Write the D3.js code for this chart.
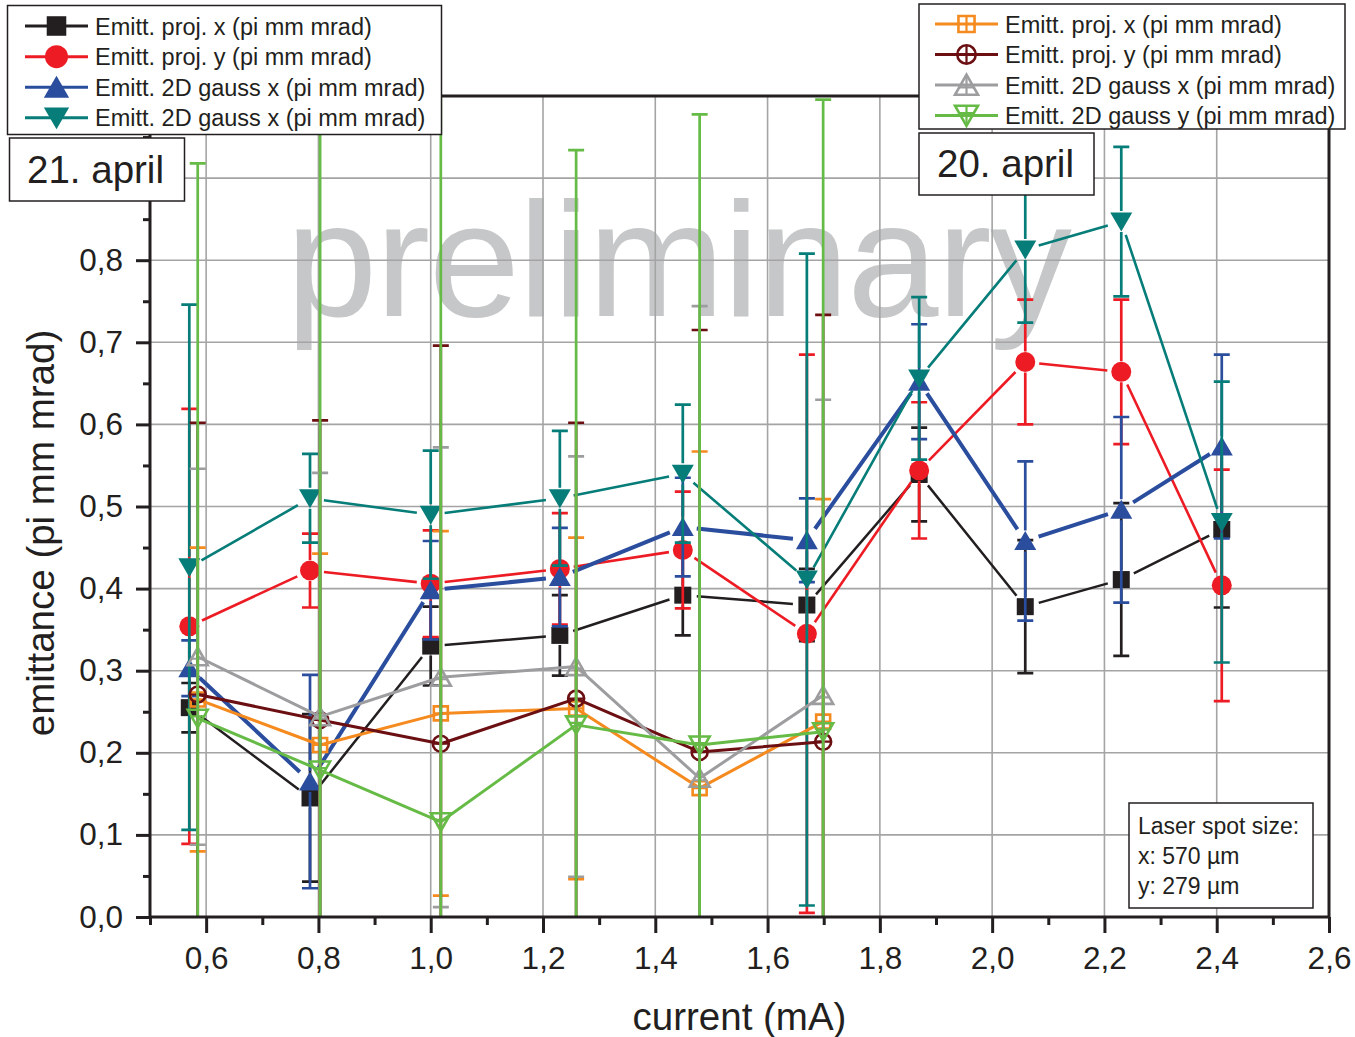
<!DOCTYPE html>
<html>
<head>
<meta charset="utf-8">
<script src="https://cdn.jsdelivr.net/npm/d3@7"></script>
<style>
  html, body { margin: 0; padding: 0; background: #fff; }
  svg { display: block; font-family: "Liberation Sans", Arial, Helvetica, sans-serif; }
</style>
</head>
<body>
<svg id="chart" width="1355" height="1037"></svg>
<script>
// ---------------- data ----------------
// beam current (mA) of each measurement
const currentApr21 = [0.57, 0.785, 1.0, 1.23, 1.449, 1.67, 1.87, 2.059, 2.23, 2.409];
const currentApr20 = [0.585, 0.803, 1.018, 1.259, 1.479, 1.699];

// 21. april, emittance (pi mm mrad) and errors
const projX21      = [0.255, 0.145, 0.330, 0.343, 0.392, 0.380, 0.539, 0.378, 0.411, 0.472];
const projX21Err   = [0.030, 0.102, 0.048, 0.049, 0.049, 0.044, 0.057, 0.081, 0.093, 0.095];
const projY21      = [0.354, 0.422, 0.406, 0.424, 0.447, 0.345, 0.544, 0.676, 0.664, 0.404];
const projY21Err   = [0.265, 0.045, 0.065, 0.068, 0.071, 0.340, 0.083, 0.076, 0.088, 0.141];
const gaussX21     = [0.303, 0.165, 0.398, 0.414, 0.475, 0.459, 0.652, 0.458, 0.496, 0.573];
const gaussX21Err  = [0.034, 0.130, 0.060, 0.060, 0.060, 0.051, 0.070, 0.097, 0.113, 0.112];
const gaussY21     = [0.426, 0.510, 0.490, 0.510, 0.540, 0.411, 0.656, 0.813, 0.847, 0.481];
const gaussY21Err  = [0.320, 0.054, 0.078, 0.082, 0.084, 0.397, 0.099, 0.089, 0.091, 0.171];

// 20. april, emittance (pi mm mrad) and errors
const projX20      = [0.265, 0.2095, 0.248, 0.254, 0.157, 0.238];
const projX20Err   = [0.185, 0.233, 0.222, 0.208, 0.410, 0.271];
const projY20      = [0.271, 0.240, 0.211, 0.266, 0.201, 0.2135];
const projY20Err   = [0.331, 0.365, 0.485, 0.336, 0.514, 0.520];
const gaussX20     = [0.317, 0.244, 0.292, 0.305, 0.169, 0.270];
const gaussX20Err  = [0.229, 0.297, 0.280, 0.256, 0.575, 0.360];
const gaussY20     = [0.242, 0.179, 0.116, 0.234, 0.2095, 0.2257];
const gaussY20Err  = [0.676, 0.900, 0.950, 0.700, 0.768, 0.770];

// legend texts
const legendApr21 = [
  "Emitt. proj. x (pi mm mrad)",
  "Emitt. proj. y (pi mm mrad)",
  "Emitt. 2D gauss x (pi mm mrad)",
  "Emitt. 2D gauss x (pi mm mrad)"
];
const legendApr20 = [
  "Emitt. proj. x (pi mm mrad)",
  "Emitt. proj. y (pi mm mrad)",
  "Emitt. 2D gauss x (pi mm mrad)",
  "Emitt. 2D gauss y (pi mm mrad)"
];

// axis ticks (the two top y ticks sit under the boxes, so they carry no label)
const xMajorTicks = [0.6, 0.8, 1.0, 1.2, 1.4, 1.6, 1.8, 2.0, 2.2, 2.4, 2.6];
const xMinorTicks = [0.5, 0.7, 0.9, 1.1, 1.3, 1.5, 1.7, 1.9, 2.1, 2.3, 2.5];
const yLabelledTicks = [0.0, 0.1, 0.2, 0.3, 0.4, 0.5, 0.6, 0.7, 0.8];
const yBareTicks = [0.9, 1.0];
const yMinorTicks = [0.05, 0.15, 0.25, 0.35, 0.45, 0.55, 0.65, 0.75, 0.85, 0.95];
const xGrid = [0.6, 0.8, 1.0, 1.2, 1.4, 1.6, 1.8, 2.0, 2.2, 2.4];
const yGrid = [0.1, 0.2, 0.3, 0.4, 0.5, 0.6, 0.7, 0.8, 0.9];

const laserNote = ["Laser spot size:", "x: 570 µm", "y: 279 µm"];

// ---------------- layout ----------------
const plot = { left: 150, top: 96, right: 1329, bottom: 917 };
const ink = "#231f20";

const x = d3.scaleLinear().domain([0.5, 2.6]).range([plot.left, plot.right]);
const y = d3.scaleLinear().domain([0, 1.0]).range([plot.bottom, plot.top]);
const fmt = d3.formatLocale({ decimal: ",", thousands: ".", grouping: [3], currency: ["", ""] }).format(".1f");

const svg = d3.select("#chart");
svg.append("rect").attr("width", 1355).attr("height", 1037).attr("fill", "#fff");

svg.append("defs").append("clipPath").attr("id", "plotClip")
  .append("rect")
  .attr("x", plot.left).attr("y", plot.top)
  .attr("width", plot.right - plot.left).attr("height", plot.bottom - plot.top);

// watermark
svg.append("text")
  .attr("x", 286).attr("y", 316)
  .attr("font-size", 164)
  .attr("fill", "#c6c7c8")
  .attr("textLength", 786)
  .attr("lengthAdjust", "spacing")
  .text("preliminary");

// grid
const grid = svg.append("g").attr("stroke", "#a4a4a4").attr("stroke-width", 1.6);
grid.selectAll("line.gx").data(xGrid).join("line")
  .attr("x1", d => x(d)).attr("x2", d => x(d))
  .attr("y1", plot.top).attr("y2", plot.bottom);
grid.selectAll("line.gy").data(yGrid).join("line")
  .attr("x1", plot.left).attr("x2", plot.right)
  .attr("y1", d => y(d)).attr("y2", d => y(d));

// ---------------- markers ----------------
function markerShape(type) {
  switch (type) {
    case "square":   return { d: "M-8.5,-8.5h17v17h-17Z", r: 9.5, fill: true };
    case "circle":   return { d: d3.symbol(d3.symbolCircle, Math.PI * 100)(), r: 10.5, fill: true };
    case "triUp":    return { d: "M0,-10L11,9L-11,9Z", r: 10.5, fill: true };
    case "triDown":  return { d: "M0,10L11,-9L-11,-9Z", r: 10.5, fill: true };
    case "oSquare":  return { d: "M-7,-7h14v14h-14Z", cross: "M0,-7V7M-7,0H7", r: 8.5, fill: false };
    case "oCircle":  return { d: d3.symbol(d3.symbolCircle, Math.PI * 64)(), cross: "M0,-8V8M-8,0H8", r: 9, fill: false };
    case "oTriUp":   return { d: "M0,-9L10,8.5L-10,8.5Z", cross: "M0,-9V8.5M-5.7,2H5.7", r: 9.5, fill: false };
    case "oTriDown": return { d: "M0,9L10,-8.5L-10,-8.5Z", cross: "M0,9V-8.5M-5.7,-2H5.7", r: 9.5, fill: false };
  }
}

function drawMarker(g, type, color, cx, cy, scale = 1) {
  const m = markerShape(type);
  const t = `translate(${cx},${cy}) scale(${scale})`;
  if (m.fill) {
    g.append("path").attr("d", m.d).attr("transform", t).attr("fill", color);
  } else {
    g.append("path").attr("d", m.d).attr("transform", t)
      .attr("fill", "none").attr("stroke", color).attr("stroke-width", 2.6 / scale);
    g.append("path").attr("d", m.cross).attr("transform", t)
      .attr("fill", "none").attr("stroke", color).attr("stroke-width", 2.2 / scale);
  }
}

// line with small gaps at every symbol
function gappedPath(pts, gap) {
  const p = d3.path();
  for (let i = 0; i < pts.length - 1; i++) {
    const [x0, y0] = pts[i], [x1, y1] = pts[i + 1];
    const dx = x1 - x0, dy = y1 - y0, L = Math.hypot(dx, dy);
    if (L <= 2 * gap) continue;
    const ux = dx / L, uy = dy / L;
    p.moveTo(x0 + ux * gap, y0 + uy * gap);
    p.lineTo(x1 - ux * gap, y1 - uy * gap);
  }
  return p.toString();
}

// error bar starting at the symbol edge, capped at both ends
function errorBarPath(cx, v, e, r, capW) {
  const p = d3.path();
  const yc = y(v), yt = y(v + e), yb = y(v - e);
  if (yc - r > yt) { p.moveTo(cx, yc - r); p.lineTo(cx, yt); }
  p.moveTo(cx - capW / 2, yt); p.lineTo(cx + capW / 2, yt);
  if (yc + r < yb) { p.moveTo(cx, yc + r); p.lineTo(cx, yb); }
  p.moveTo(cx - capW / 2, yb); p.lineTo(cx + capW / 2, yb);
  return p.toString();
}

const series = [
  { xs: currentApr21, vs: projX21,  es: projX21Err,  color: "#231f20", marker: "square",   lw: 2.5, gap: 14 },
  { xs: currentApr21, vs: projY21,  es: projY21Err,  color: "#ed1c24", marker: "circle",   lw: 2.6, gap: 14 },
  { xs: currentApr21, vs: gaussX21, es: gaussX21Err, color: "#2a4d9e", marker: "triUp",    lw: 4,   gap: 14 },
  { xs: currentApr21, vs: gaussY21, es: gaussY21Err, color: "#067d78", marker: "triDown",  lw: 2.6, gap: 14 },
  { xs: currentApr20, vs: projX20,  es: projX20Err,  color: "#f58a1f", marker: "oSquare",  lw: 3,   gap: 0 },
  { xs: currentApr20, vs: projY20,  es: projY20Err,  color: "#6b0f12", marker: "oCircle",  lw: 3,   gap: 0 },
  { xs: currentApr20, vs: gaussX20, es: gaussX20Err, color: "#9d9d9f", marker: "oTriUp",   lw: 3,   gap: 0 },
  { xs: currentApr20, vs: gaussY20, es: gaussY20Err, color: "#66bb46", marker: "oTriDown", lw: 3,   gap: 0 }
];

const dataLayer = svg.append("g").attr("clip-path", "url(#plotClip)");
series.forEach(s => {
  const g = dataLayer.append("g");
  const pts = s.xs.map((cx, i) => [x(cx), y(s.vs[i])]);
  const d = s.gap > 0 ? gappedPath(pts, s.gap) : d3.line()(pts);
  g.append("path").attr("d", d).attr("fill", "none")
    .attr("stroke", s.color).attr("stroke-width", s.lw).attr("stroke-linejoin", "round");
  pts.forEach(([px, py]) => drawMarker(g, s.marker, s.color, px, py));
  const r = markerShape(s.marker).r;
  s.xs.forEach((cx, i) => {
    g.append("path").attr("d", errorBarPath(x(cx), s.vs[i], s.es[i], r, 16))
      .attr("fill", "none").attr("stroke", s.color).attr("stroke-width", 2.7);
  });
});

// ---------------- axes and frame ----------------
const axisFont = 31.5;
const axes = [
  svg.append("g").attr("transform", `translate(0,${plot.bottom})`)
    .call(d3.axisBottom(x).tickValues(xMajorTicks).tickFormat(fmt).tickSize(16).tickSizeOuter(0).tickPadding(13.5)),
  svg.append("g").attr("transform", `translate(0,${plot.bottom})`)
    .call(d3.axisBottom(x).tickValues(xMinorTicks).tickFormat("").tickSize(8).tickSizeOuter(0)),
  svg.append("g").attr("transform", `translate(${plot.left},0)`)
    .call(d3.axisLeft(y).tickValues(yLabelledTicks).tickFormat(fmt).tickSize(14).tickSizeOuter(0).tickPadding(13)),
  svg.append("g").attr("transform", `translate(${plot.left},0)`)
    .call(d3.axisLeft(y).tickValues(yBareTicks).tickFormat("").tickSize(14).tickSizeOuter(0)),
  svg.append("g").attr("transform", `translate(${plot.left},0)`)
    .call(d3.axisLeft(y).tickValues(yMinorTicks).tickFormat("").tickSize(7).tickSizeOuter(0))
];

axes.forEach(a => {
  a.select(".domain").remove();
  a.selectAll(".tick line").attr("stroke", ink).attr("stroke-width", 3);
  a.selectAll(".tick text").attr("fill", ink).attr("font-size", axisFont)
    .attr("font-family", "Liberation Sans, Arial, sans-serif");
});

svg.append("rect")
  .attr("x", plot.left).attr("y", plot.top)
  .attr("width", plot.right - plot.left).attr("height", plot.bottom - plot.top)
  .attr("fill", "none").attr("stroke", ink).attr("stroke-width", 3);

svg.append("text")
  .attr("x", (plot.left + plot.right) / 2).attr("y", 1030)
  .attr("text-anchor", "middle").attr("font-size", 38.5).attr("fill", ink)
  .text("current (mA)");

svg.append("text")
  .attr("transform", "translate(54,533) rotate(-90)")
  .attr("text-anchor", "middle").attr("font-size", 38.5).attr("fill", ink)
  .text("emittance (pi mm mrad)");

// ---------------- legends and notes ----------------
function legendBox(bx, by, bw, bh, rows, lineX0, lineX1, textX, labels, list) {
  const g = svg.append("g");
  g.append("rect").attr("x", bx).attr("y", by).attr("width", bw).attr("height", bh)
    .attr("fill", "#fff").attr("stroke", ink).attr("stroke-width", 1.5);
  list.forEach((s, i) => {
    const cy = rows[i];
    g.append("line").attr("x1", lineX0).attr("x2", lineX1).attr("y1", cy).attr("y2", cy)
      .attr("stroke", s.color).attr("stroke-width", 3);
    drawMarker(g, s.marker, s.color, (lineX0 + lineX1) / 2, cy, 1.15);
    g.append("text").attr("x", textX).attr("y", cy + 8.5)
      .attr("font-size", 23.5).attr("fill", ink).text(labels[i]);
  });
}

legendBox(7.5, 5.5, 434, 129, [26, 56.7, 87.3, 117.8], 25, 88, 95, legendApr21, series.slice(0, 4));
legendBox(919, 4, 426, 125, [24, 54.5, 85, 115.5], 935, 998, 1005, legendApr20, series.slice(4, 8));

function labelBox(bx, by, bw, bh, tx, ty, txt) {
  svg.append("rect").attr("x", bx).attr("y", by).attr("width", bw).attr("height", bh)
    .attr("fill", "#fff").attr("stroke", ink).attr("stroke-width", 1.5);
  svg.append("text").attr("x", tx).attr("y", ty).attr("font-size", 38.5).attr("fill", ink).text(txt);
}
labelBox(9.5, 138, 175, 63, 27, 183, "21. april");
labelBox(919, 133, 175, 62, 937, 177, "20. april");

svg.append("rect").attr("x", 1129).attr("y", 803).attr("width", 184).attr("height", 105)
  .attr("fill", "#fff").attr("stroke", ink).attr("stroke-width", 1.5);
svg.append("g").selectAll("text").data(laserNote).join("text")
  .attr("x", 1138).attr("y", (d, i) => 834 + i * 30)
  .attr("font-size", 23).attr("fill", ink).text(d => d);
</script>
</body>
</html>
